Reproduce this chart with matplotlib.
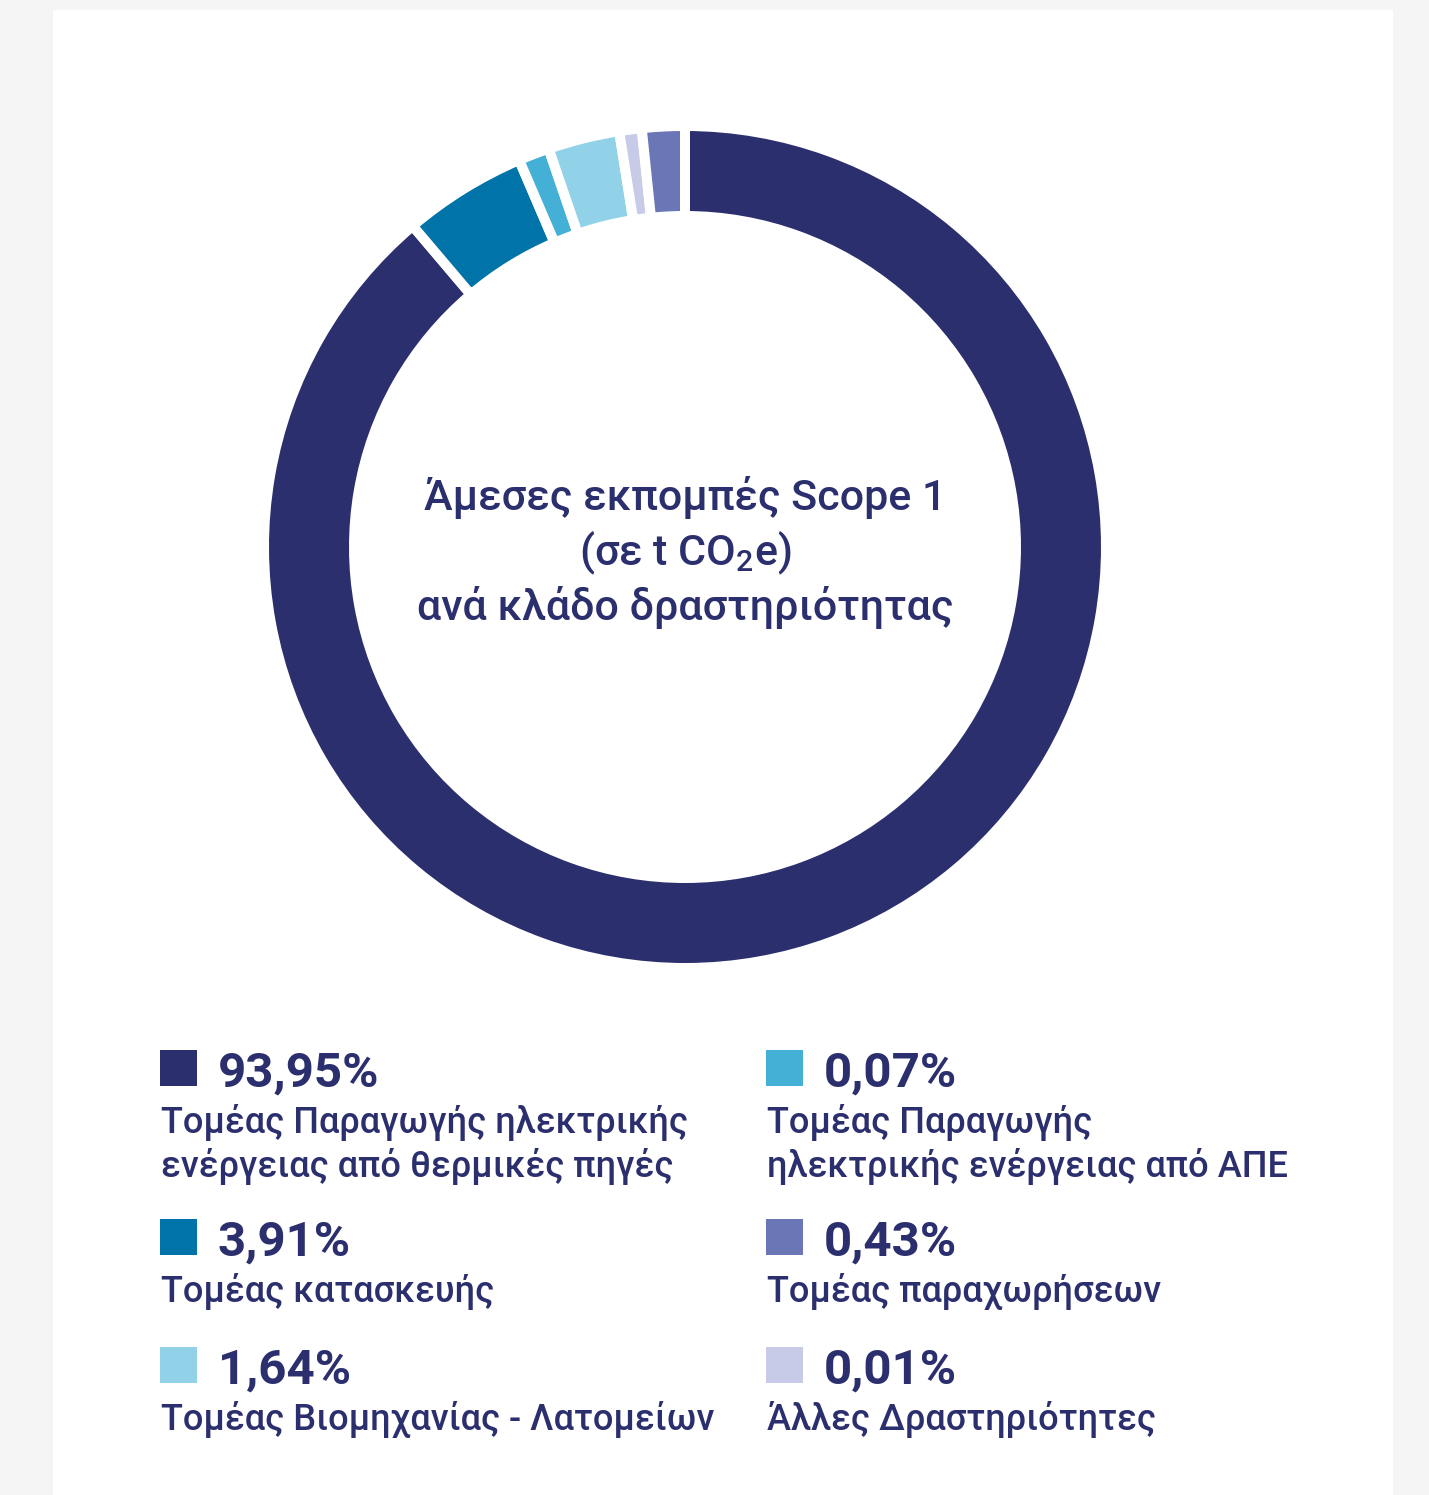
import matplotlib
matplotlib.use("Agg")
import matplotlib.pyplot as plt
from matplotlib.patches import Rectangle

# percentages shown in the legend
values = [93.95, 3.91, 0.07, 1.64, 0.01, 0.43]
pct_labels = ["93,95%", "3,91%", "0,07%", "1,64%", "0,01%", "0,43%"]
names = [
    "Τομέας Παραγωγής ηλεκτρικής\nενέργειας από θερμικές πηγές",
    "Τομέας κατασκευής",
    "Τομέας Παραγωγής\nηλεκτρικής ενέργειας από ΑΠΕ",
    "Τομέας Βιομηχανίας - Λατομείων",
    "Άλλες Δραστηριότητες",
    "Τομέας παραχωρήσεων",
]
# arc sizes as drawn in the picture (degrees), small sectors are enlarged there
arc_deg = [319.7, 17.1, 4.3, 9.9, 3.1, 5.9]
colors = ["#2b2f6e", "#0073a8", "#44b0d6", "#92d2e8", "#c8cbe8", "#6a76b5"]

navy = "#2b2f6e"
W, H = 1429, 1495
plt.rcParams['font.family'] = ['Roboto', 'DejaVu Sans']
plt.rcParams['mathtext.fontset'] = 'custom'
plt.rcParams['mathtext.rm'] = 'Roboto:medium'

fig = plt.figure(figsize=(W / 100, H / 100), dpi=100)
fig.patch.set_facecolor("#f5f5f5")
ax = fig.add_axes([0, 0, 1, 1])

# white card
ax.add_patch(Rectangle((53, 0), 1340, H - 10, facecolor="white", edgecolor="none", zorder=0))

# donut
cx, cy = 685, H - 547
ax.pie(arc_deg, colors=colors, startangle=90, counterclock=False,
       radius=421, center=(cx, cy), frame=True,
       wedgeprops=dict(width=90, edgecolor="white", linewidth=7.2))
ax.set_xlim(0, W)
ax.set_ylim(0, H)
ax.set_aspect('equal')
ax.axis('off')

# centre title
title_kw = dict(ha='center', va='baseline', fontsize=31, color=navy, fontweight='medium')
ax.text(cx, H - 510, "Άμεσες εκπομπές Scope 1", **title_kw)
ax.text(cx, H - 565, r"(σε t CO$_2$e)", **title_kw)
ax.text(cx, H - 620, "ανά κλάδο δραστηριότητας", **title_kw)

# legend: (index, column x, square top y)
layout = [(0, 160, 1050), (1, 160, 1219), (3, 160, 1347),
          (2, 766, 1050), (5, 766, 1219), (4, 766, 1347)]
for i, x0, top in layout:
    ax.add_patch(Rectangle((x0, H - top - 36), 37, 36, facecolor=colors[i],
                           edgecolor="none"))
    ax.text(x0 + 58, H - top - 37, pct_labels[i], ha='left', va='baseline',
            fontsize=35.5, fontweight='bold', color=navy)
    for j, line in enumerate(names[i].split("\n")):
        ax.text(x0 + 1, H - top - 83 - j * 44, line, ha='left', va='baseline',
                fontsize=26, fontweight='medium', color=navy)

fig.savefig("out.png", dpi=100, facecolor=fig.get_facecolor())
